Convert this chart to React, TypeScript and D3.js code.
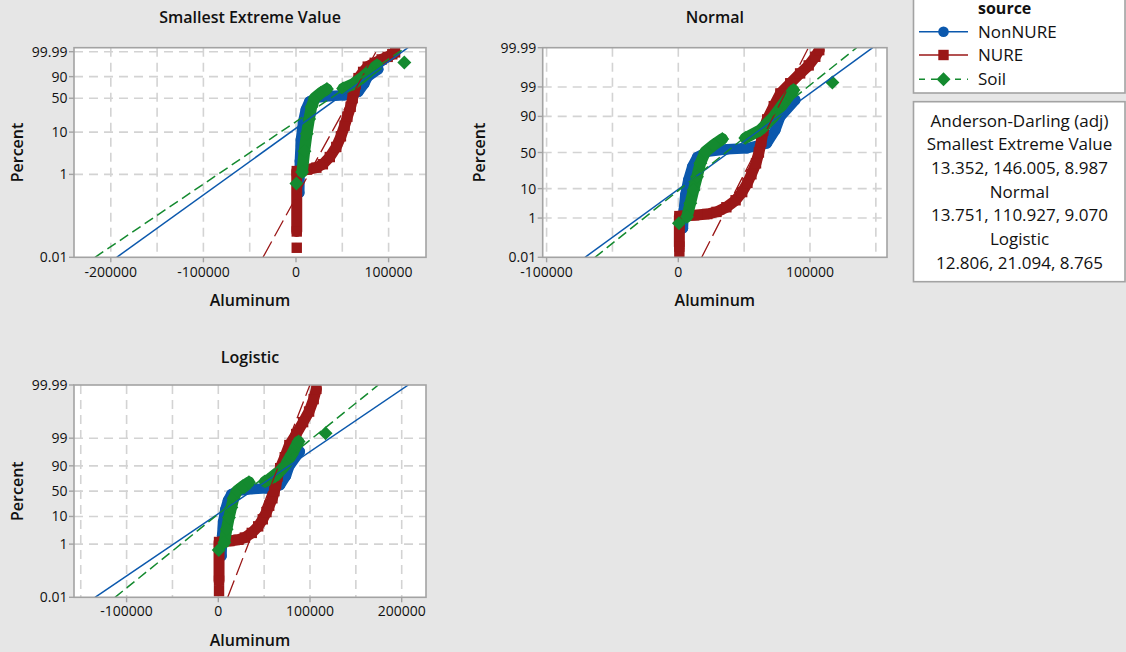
import React from 'react';
import * as d3 from 'd3';

// ---------------- data ----------------
const sources = ['NonNURE', 'NURE', 'Soil'];
const distNames = ['Smallest Extreme Value', 'Normal', 'Logistic'];

// empirical plotting positions (percent) and Aluminum values
const nonNurePercent = [0.36, 2.1, 6.6, 16.5, 30.7, 43.6, 51, 54.5, 56, 62.8, 78.8, 89.8, 96.9];
const nonNureAluminum = [3500, 4200, 5300, 7600, 10600, 14400, 21800, 37000, 52200, 67300, 73700, 77400, 88800];
const nonNureBreaks: number[] = [];

const nurePercent = [0.017, 0.042, 1.2, 1.3, 1.45, 1.75, 2.6, 4.5, 8, 14, 22, 35, 50, 65, 78, 88, 95, 98.2, 99.3, 99.75, 99.9, 99.966, 99.986];
const nureAluminum = [800, 800, 800, 12000, 22000, 29000, 36500, 43500, 48500, 52500, 55500, 59000, 61200, 63000, 64500, 67500, 72500, 77500, 85000, 92500, 99000, 104000, 107000];
const nureBreaks = [1];

const soilPercent = [0.6, 1.14, 3.57, 9.2, 19.5, 35.1, 51, 60.5, 68.4, 69.7, 78.8, 89.8, 96, 98.67, 99.35];
const soilAluminum = [500, 6600, 9100, 11600, 14200, 16700, 20500, 26800, 33400, 50900, 62300, 72400, 80000, 87500, 117000];
const soilBreaks = [1, 9, 14];

// fitted location / scale per distribution (SEV, Normal, Logistic)
const nonNureLoc = [55010, 38400, 36370];
const nonNureScale = [26995, 29370, 18548];
const nureLoc = [62750, 58300, 55070];
const nureScale = [10682, 10898, 4866];
const soilLoc = [47910, 36100, 30920];
const soilScale = [28770, 26715, 15588];

// Anderson-Darling (adj) per distribution: NonNURE, NURE, Soil
const adNonNure = ['13.352', '13.751', '12.806'];
const adNure = ['146.005', '110.927', '21.094'];
const adSoil = ['8.987', '9.070', '8.765'];

// axis ticks
const sevPercentTicks = ['0.01', '1', '10', '50', '90', '99.99'];
const percentTicks = ['0.01', '1', '10', '50', '90', '99', '99.99'];
const sevXTicks = [-200000, -100000, 0, 100000];
const normalXTicks = [-100000, 0, 100000];
const logisticXTicks = [-100000, 0, 100000, 200000];

// ---------------- helpers ----------------
function probit(p: number): number {
  const a = [-3.969683028665376e1, 2.209460984245205e2, -2.759285104469687e2, 1.38357751867269e2, -3.066479806614716e1, 2.506628277459239];
  const b = [-5.447609879822406e1, 1.615858368580409e2, -1.556989798598866e2, 6.680131188771972e1, -1.328068155288572e1];
  const c = [-7.784894002430293e-3, -3.223964580411365e-1, -2.400758277161838, -2.549732539343734, 4.374664141464968, 2.938163982698783];
  const d = [7.784695709041462e-3, 3.224671290700398e-1, 2.445134137142996, 3.754408661907416];
  const pl = 0.02425;
  if (p < pl) {
    const q = Math.sqrt(-2 * Math.log(p));
    return (((((c[0] * q + c[1]) * q + c[2]) * q + c[3]) * q + c[4]) * q + c[5]) / ((((d[0] * q + d[1]) * q + d[2]) * q + d[3]) * q + 1);
  }
  if (p <= 1 - pl) {
    const q = p - 0.5;
    const r = q * q;
    return ((((((a[0] * r + a[1]) * r + a[2]) * r + a[3]) * r + a[4]) * r + a[5]) * q) / (((((b[0] * r + b[1]) * r + b[2]) * r + b[3]) * r + b[4]) * r + 1);
  }
  const q = Math.sqrt(-2 * Math.log(1 - p));
  return -(((((c[0] * q + c[1]) * q + c[2]) * q + c[3]) * q + c[4]) * q + c[5]) / ((((d[0] * q + d[1]) * q + d[2]) * q + d[3]) * q + 1);
}
const sevQ = (p: number) => Math.log(-Math.log(1 - p));
const logitQ = (p: number) => Math.log(p / (1 - p));
const quantileFns = [sevQ, probit, logitQ];

const BLUE = '#0b58ad';
const RED = '#9a1717';
const GREEN = '#148a2f';
const FONT = "'Open Sans', 'Noto Sans', sans-serif";
const TXT = '#111111';

const panels = [
  { dist: 0, left: 74, right: 426, top: 47.7, bottom: 257.3, topPad: 4, xMin: -239740, xMax: 140390, yTicks: sevPercentTicks, xTicks: sevXTicks, titleY: 22.5, xLabelY: 306, tickLabelY: 277, percentX: 22.5 },
  { dist: 1, left: 542.7, right: 887, top: 47.7, bottom: 257.3, topPad: 0, xMin: -102960, xMax: 158470, yTicks: percentTicks, xTicks: normalXTicks, titleY: 22.5, xLabelY: 306, tickLabelY: 277, percentX: 485 },
  { dist: 2, left: 74, right: 426, top: 385, bottom: 597.3, topPad: 0, xMin: -157360, xMax: 226500, yTicks: percentTicks, xTicks: logisticXTicks, titleY: 362.7, xLabelY: 645.5, tickLabelY: 616, percentX: 22.5 },
];

const groups = [
  { name: sources[0], pct: nonNurePercent, val: nonNureAluminum, breaks: nonNureBreaks, loc: nonNureLoc, scale: nonNureScale, color: BLUE, shape: 'circle', dash: undefined as string | undefined, lw: 1.5, band: 10.5 },
  { name: sources[1], pct: nurePercent, val: nureAluminum, breaks: nureBreaks, loc: nureLoc, scale: nureScale, color: RED, shape: 'square', dash: '18,6', lw: 1.3, band: 11 },
  { name: sources[2], pct: soilPercent, val: soilAluminum, breaks: soilBreaks, loc: soilLoc, scale: soilScale, color: GREEN, shape: 'diamond', dash: '10,5', lw: 1.5, band: 11.5 },
];

function marker(shape: string, x: number, y: number, color: string, key: string) {
  if (shape === 'circle') return <circle key={key} cx={x} cy={y} r={5.3} fill={color} />;
  if (shape === 'square') return <rect key={key} x={x - 5.2} y={y - 5.2} width={10.4} height={10.4} fill={color} />;
  const h = 7;
  return <path key={key} d={`M${x},${y - h}L${x + h},${y}L${x},${y + h}L${x - h},${y}Z`} fill={color} />;
}

function Panel({ cfg, idx }: { cfg: typeof panels[0]; idx: number }) {
  const q = quantileFns[cfg.dist];
  const qLo = q(0.0001);
  const qHi = q(0.9999);
  const x = d3.scaleLinear().domain([cfg.xMin, cfg.xMax]).range([cfg.left, cfg.right]);
  const y = d3.scaleLinear().domain([qLo, qHi]).range([cfg.bottom, cfg.top + cfg.topPad]);
  const qFrameTop = y.invert(cfg.top);
  const gridX = d3.range(Math.ceil(cfg.xMin / 50000) * 50000, cfg.xMax, 50000);
  const clipId = `clip${idx}`;
  const cx = (cfg.left + cfg.right) / 2;
  const cy = (cfg.top + cfg.bottom) / 2;
  const line = d3.line<[number, number]>().x((d) => d[0]).y((d) => d[1]);

  return (
    <g>
      <text x={cx} y={cfg.titleY} textAnchor="middle" fontFamily={FONT} fontWeight={600} fontSize={16} fill={TXT}>
        {distNames[cfg.dist]}
      </text>
      <rect x={cfg.left} y={cfg.top} width={cfg.right - cfg.left} height={cfg.bottom - cfg.top} fill="#ffffff" />
      <clipPath id={clipId}>
        <rect x={cfg.left} y={cfg.top} width={cfg.right - cfg.left} height={cfg.bottom - cfg.top} />
      </clipPath>
      {/* grid */}
      {gridX.map((v) => (
        <line key={`gx${v}`} x1={x(v)} x2={x(v)} y1={cfg.top} y2={cfg.bottom} stroke="#d3d3d3" strokeWidth={1.6} strokeDasharray="9,6" />
      ))}
      {cfg.yTicks.map((t) => {
        const yy = y(q(parseFloat(t) / 100));
        if (yy < cfg.top + 1 || yy > cfg.bottom - 1) return null;
        return <line key={`gy${t}`} x1={cfg.left} x2={cfg.right} y1={yy} y2={yy} stroke="#d3d3d3" strokeWidth={1.6} strokeDasharray="9,6" />;
      })}
      <g clipPath={`url(#${clipId})`}>
        {groups.map((g) => {
          const pts: [number, number][] = g.pct.map((p, i) => [x(g.val[i]), y(q(p / 100))]);
          const starts = [0, ...g.breaks];
          const segs = starts.map((s, k) => pts.slice(s, k + 1 < starts.length ? starts[k + 1] : pts.length));
          return (
            <g key={g.name}>
              {segs.map((seg, k) =>
                seg.length > 1 ? (
                  <path key={k} d={line(seg) || ''} fill="none" stroke={g.color} strokeWidth={g.band} strokeLinejoin="round" strokeLinecap="round" />
                ) : null
              )}
              {pts.map((p, i) => marker(g.shape, p[0], p[1], g.color, `${g.name}${i}`))}
            </g>
          );
        })}
        {groups.map((g) => {
          const loc = g.loc[cfg.dist];
          const sc = g.scale[cfg.dist];
          return (
            <line
              key={`fit${g.name}`}
              x1={x(loc + sc * qLo)}
              y1={y(qLo)}
              x2={x(loc + sc * qFrameTop)}
              y2={y(qFrameTop)}
              stroke={g.color}
              strokeWidth={g.lw}
              strokeDasharray={g.dash}
            />
          );
        })}
      </g>
      <rect x={cfg.left} y={cfg.top} width={cfg.right - cfg.left} height={cfg.bottom - cfg.top} fill="none" stroke="#a3a3a3" strokeWidth={1.6} />
      {/* y ticks */}
      {cfg.yTicks.map((t) => {
        const yy = y(q(parseFloat(t) / 100));
        return (
          <g key={`yt${t}`}>
            <line x1={cfg.left - 5} x2={cfg.left} y1={yy} y2={yy} stroke="#a3a3a3" strokeWidth={1.4} />
            <text x={cfg.left - 6.5} y={yy + 5} textAnchor="end" fontFamily={FONT} fontWeight={500} fontSize={14} fill={TXT}>
              {t}
            </text>
          </g>
        );
      })}
      {/* x ticks */}
      {cfg.xTicks.map((v) => (
        <g key={`xt${v}`}>
          <line x1={x(v)} x2={x(v)} y1={cfg.bottom} y2={cfg.bottom + 5} stroke="#a3a3a3" strokeWidth={1.4} />
          <text x={x(v)} y={cfg.tickLabelY} textAnchor="middle" fontFamily={FONT} fontWeight={500} fontSize={14} fill={TXT}>
            {String(v)}
          </text>
        </g>
      ))}
      <text x={cx} y={cfg.xLabelY} textAnchor="middle" fontFamily={FONT} fontWeight={600} fontSize={16} fill={TXT}>
        Aluminum
      </text>
      <text transform={`translate(${cfg.percentX},${cy}) rotate(-90)`} textAnchor="middle" fontFamily={FONT} fontWeight={600} fontSize={16} fill={TXT}>
        Percent
      </text>
    </g>
  );
}

export default function App() {
  const W = 1126;
  const H = 652;
  const legendRows = [31.7, 55, 79.3];
  const adLines = [
    'Anderson-Darling (adj)',
    distNames[0],
    `${adNonNure[0]}, ${adNure[0]}, ${adSoil[0]}`,
    distNames[1],
    `${adNonNure[1]}, ${adNure[1]}, ${adSoil[1]}`,
    distNames[2],
    `${adNonNure[2]}, ${adNure[2]}, ${adSoil[2]}`,
  ];
  const adY = [126.5, 150, 173.5, 197.5, 221, 245, 268.5];
  return (
    <svg width={W} height={H} style={{ position: 'absolute', left: 0, top: 0, display: 'block' }}>
      <rect x={0} y={0} width={W} height={H} fill="#e6e6e6" />
      {panels.map((p, i) => (
        <Panel key={i} cfg={p} idx={i} />
      ))}
      {/* legend: source */}
      <rect x={913.5} y={-5} width={211.5} height={98} fill="#ffffff" stroke="#a3a3a3" strokeWidth={1.6} />
      <text x={978} y={14} fontFamily={FONT} fontWeight={700} fontSize={16} fill={TXT}>
        source
      </text>
      {groups.map((g, i) => (
        <g key={`lg${g.name}`}>
          <line x1={919} x2={968} y1={legendRows[i]} y2={legendRows[i]} stroke={g.color} strokeWidth={1.6} strokeDasharray={g.shape === 'diamond' ? '6,6' : undefined} />
          {marker(g.shape, 943.5, legendRows[i], g.color, `lm${i}`)}
          <text x={978} y={legendRows[i] + 6} fontFamily={FONT} fontWeight={500} fontSize={17} fill={TXT}>
            {g.name}
          </text>
        </g>
      ))}
      {/* legend: AD statistics */}
      <rect x={913.5} y={101.7} width={211.5} height={180} fill="#ffffff" stroke="#a3a3a3" strokeWidth={1.6} />
      {adLines.map((t, i) => (
        <text key={`ad${i}`} x={1019.5} y={adY[i]} textAnchor="middle" fontFamily={FONT} fontWeight={500} fontSize={17} fill={TXT}>
          {t}
        </text>
      ))}
    </svg>
  );
}
